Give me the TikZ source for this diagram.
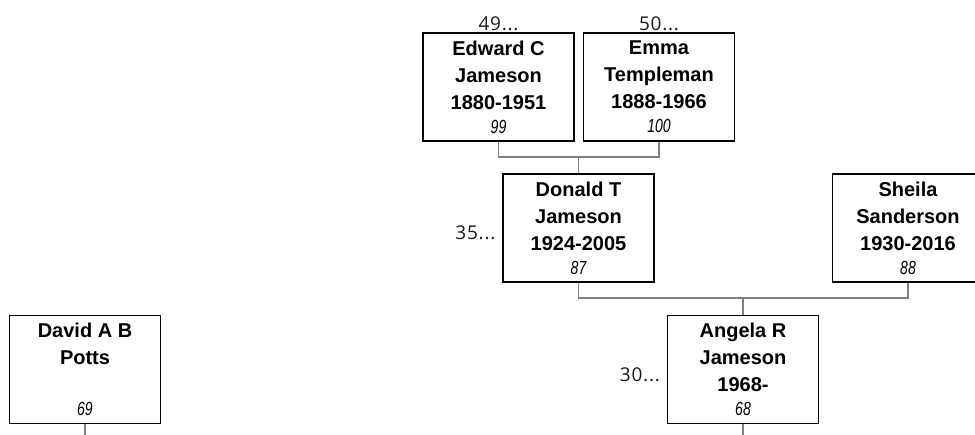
\documentclass[tikz,border=0pt]{standalone}
\usepackage{fontspec}
\setmainfont{Liberation Sans}
\newfontfamily\tagfamily[LetterSpace=4]{Open Sans}
\newfontfamily\numfamily[FakeStretch=0.74]{Liberation Sans}
\usetikzlibrary{positioning,calc}
\definecolor{ftink}{HTML}{000000}
\definecolor{ftlink}{HTML}{808080}
\definecolor{fttag}{HTML}{1A1A1A}
\newcommand{\pname}{\fontsize{20}{27}\selectfont\bfseries}
\newcommand{\pnum}[1]{{\numfamily\fontsize{19}{27}\selectfont\mdseries\itshape #1}}
\tikzset{
  person/.style={draw=ftink,line width=1.8pt,minimum width=151pt,minimum height=108pt,
                 inner sep=0pt,align=center,font=\pname,text=ftink},
  gen/.style={font=\tagfamily\fontsize{19}{20}\selectfont,text=fttag,inner sep=1.5pt},
  link/.style={draw=ftlink,line width=1.6pt},
}

\begin{document}
\begin{tikzpicture}[x=1pt,y=-1pt]
  \useasboundingbox (0,0) rectangle (975,434);
  \clip (0,0) rectangle (975,434);

  % ---------- grandparents ----------
  \node[person,label={[gen]above:49...}] (edward) at (498.5,87)
    {Edward C\\Jameson\\1880-1951\\[-3pt]\pnum{99}};
  \node[person,label={[gen]above:50...}] (emma) at (659,87)
    {Emma\\Templeman\\1888-1966\\[-3pt]\pnum{100}};

  % ---------- parents ----------
  \node[person,label={[gen,yshift=-5pt,label distance=5pt]left:35...}] (donald) at (578.5,228)
    {Donald T\\Jameson\\1924-2005\\[-3pt]\pnum{87}};
  \node[person] (sheila) at (908,228)
    {Sheila\\Sanderson\\1930-2016\\[-3pt]\pnum{88}};

  % ---------- couple ----------
  \node[person] (david) at (85,369.5)
    {David A B\\Potts\\\mbox{}\\[-3pt]\pnum{69}};
  \node[person,label={[gen,yshift=-5pt,label distance=5pt]left:30...}] (angela) at (743,369.5)
    {Angela R\\Jameson\\1968-\\[-3pt]\pnum{68}};

  % ---------- links ----------
  \draw[link] (edward.south) -- ++(0,15) coordinate (ejoin) -| (emma.south);
  \draw[link] (donald.north) |- (ejoin);
  \draw[link] (donald.south) -- ++(0,15) coordinate (djoin) -| (sheila.south);
  \draw[link] (angela.north) |- (djoin);

  \coordinate (david-out) at ($(david.south)+(0,14)$);
  \coordinate (angela-out) at ($(angela.south)+(0,14)$);
  \draw[link] (david.south) -- (david-out);
  \draw[link] (angela.south) -- (angela-out);
\end{tikzpicture}
\end{document}
